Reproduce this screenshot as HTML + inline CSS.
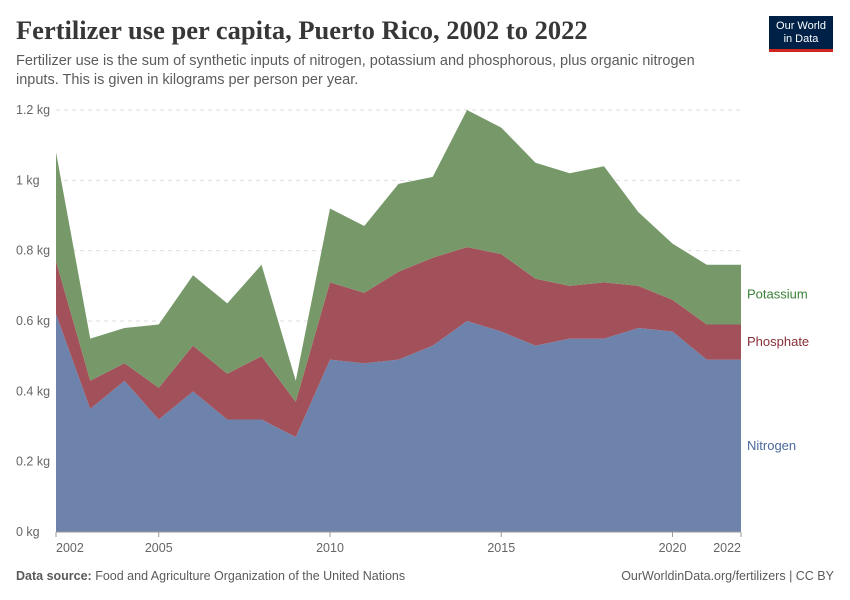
<!DOCTYPE html>
<html><head><meta charset="utf-8">
<style>
body{margin:0;background:#fff;font-family:"Liberation Sans",sans-serif;}
#wrap{position:relative;width:850px;height:600px;overflow:hidden;}
.title{position:absolute;left:16px;top:15px;font-family:"Liberation Serif",serif;font-size:26.5px;font-weight:bold;color:#373737;}
.sub{position:absolute;left:16px;top:52px;font-size:14.5px;color:#5b5b5b;line-height:19px;width:720px;}
.logo{position:absolute;left:769px;top:16px;width:64px;height:36px;background:#002147;color:#fff;font-size:11px;text-align:center;line-height:13px;padding-top:4px;box-sizing:border-box;border-bottom:3px solid #ce261e;}
.foot{position:absolute;top:569px;font-size:12.5px;color:#5b5b5b;}
</style></head><body>
<div id="wrap">
<div class="title">Fertilizer use per capita, Puerto Rico, 2002 to 2022</div>
<div class="sub">Fertilizer use is the sum of synthetic inputs of nitrogen, potassium and phosphorous, plus organic nitrogen inputs. This is given in kilograms per person per year.</div>
<div class="logo">Our World<br>in Data</div>
<svg id="svg" width="850" height="600" style="position:absolute;left:0;top:0"></svg>
<div class="foot" style="left:16px"><b>Data source:</b> Food and Agriculture Organization of the United Nations</div>
<div class="foot" style="right:16px">OurWorldinData.org/fertilizers | CC BY</div>
</div>
<script>
const years=[2002,2003,2004,2005,2006,2007,2008,2009,2010,2011,2012,2013,2014,2015,2016,2017,2018,2019,2020,2021,2022];
const nitrogen=[0.62,0.35,0.43,0.32,0.40,0.32,0.32,0.27,0.49,0.48,0.49,0.53,0.60,0.57,0.53,0.55,0.55,0.58,0.57,0.49,0.49];
const phosphate=[0.15,0.08,0.05,0.09,0.13,0.13,0.18,0.10,0.22,0.20,0.25,0.25,0.21,0.22,0.19,0.15,0.16,0.12,0.09,0.10,0.10];
const potassium=[0.31,0.12,0.10,0.18,0.20,0.20,0.26,0.06,0.21,0.19,0.25,0.23,0.39,0.36,0.33,0.32,0.33,0.21,0.16,0.17,0.17];
const yTicks=[0,0.2,0.4,0.6,0.8,1,1.2];
const yTickLabels=["0 kg","0.2 kg","0.4 kg","0.6 kg","0.8 kg","1 kg","1.2 kg"];
const xTicks=[2002,2005,2010,2015,2020,2022];
const NS="http://www.w3.org/2000/svg";
const svg=document.getElementById('svg');
const x=v=>56+(v-2002)*(741-56)/20;
const y=v=>532-v*(532-110)/1.2;
function mk(t,a){const e=document.createElementNS(NS,t);for(const k in a)e.setAttribute(k,a[k]);svg.appendChild(e);return e;}
yTicks.forEach((t,i)=>{
 if(t>0){const l=mk('line',{x1:56,x2:741,y1:y(t),y2:y(t),stroke:'#ddd','stroke-dasharray':'4,4'});
 
 }
 const tx=mk('text',{x:16,y:y(t)+4,'font-size':12.5,fill:'#666'});tx.textContent=yTickLabels[i];
 
 
});
let base=years.map(()=>0);
const series=[["nitrogen",nitrogen,"#6d83ac","Nitrogen","#4c6a9c"],["phosphate",phosphate,"#a2505a","Phosphate","#883039"],["potassium",potassium,"#77996a","Potassium","#3a8137"]];
series.forEach(([n,vals,col,lab,lc])=>{
 const top=base.map((b,i)=>b+vals[i]);
 let d='M'+years.map((yr,i)=>x(yr)+','+y(top[i])).join('L');
 for(let i=years.length-1;i>=0;i--)d+='L'+x(years[i])+','+y(base[i]);
 const p=mk('path',{d:d+'Z',fill:col});
 
 
 const last=years.length-1;
 const t=mk('text',{x:747,y:y((base[last]+top[last])/2)+4,'font-size':13,fill:lc});t.textContent=lab;
 
 
 base=top;
});
const ax=mk('line',{x1:56,x2:741,y1:532,y2:532,stroke:'#999'});


xTicks.forEach(t=>{
 const l=mk('line',{x1:x(t),x2:x(t),y1:532,y2:537,stroke:'#999'});
 
 
 const tx=mk('text',{x:x(t),y:552,'font-size':12.5,fill:'#666','text-anchor':t===2002?'start':(t===2022?'end':'middle')});
 tx.textContent=t;
 
 
});
</script>
</body></html>
